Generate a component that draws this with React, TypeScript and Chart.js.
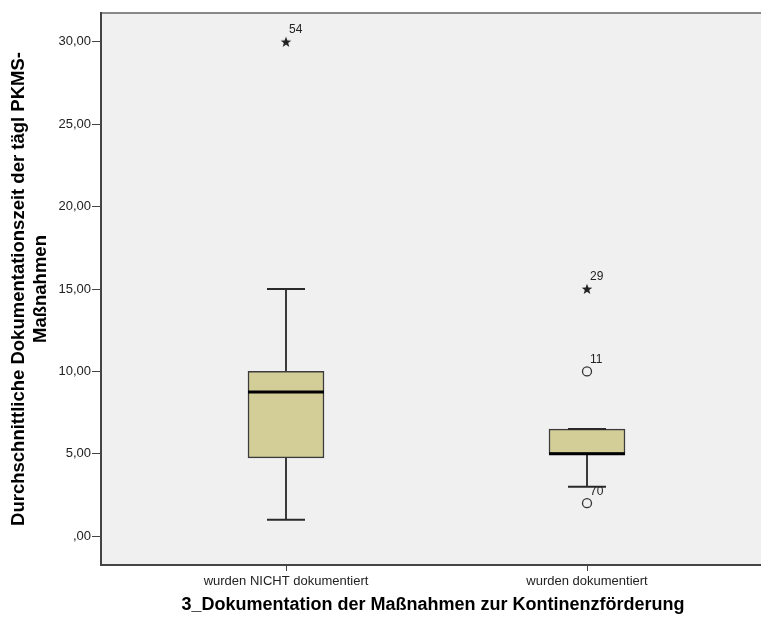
import React, { useEffect, useRef } from "react";
import { Chart, registerables } from "chart.js";

Chart.register(...registerables);

const categories = ["wurden NICHT dokumentiert", "wurden dokumentiert"];
const whiskerLow = [1, 3];
const q1 = [4.75, 5];
const median = [8.75, 5];
const q3 = [10, 6.5];
const whiskerHigh = [15, 6.5];

const outlierCategory = [0, 1, 1, 1];
const outlierValues = [30, 15, 10, 2];
const outlierIds = ["54", "29", "11", "70"];
const outlierExtreme = [true, true, false, false];

const yTickValues = [0, 5, 10, 15, 20, 25, 30];

const yTitleLines = ["Durchschnittliche Dokumentationszeit der tägl PKMS-", "Maßnahmen"];
const xTitle = "3_Dokumentation der Maßnahmen zur Kontinenzförderung";

const FONT = "'Liberation Sans', Arial, sans-serif";

function makeStar(): HTMLCanvasElement {
  const c = document.createElement("canvas");
  c.width = 12;
  c.height = 12;
  const ctx = c.getContext("2d")!;
  ctx.fillStyle = "#222";
  ctx.beginPath();
  const cx = 6, cy = 6.4, R = 5.6, r = 2.3;
  for (let i = 0; i < 10; i++) {
    const rad = i % 2 === 0 ? R : r;
    const a = -Math.PI / 2 + (i * Math.PI) / 5;
    const x = cx + rad * Math.cos(a);
    const y = cy + rad * Math.sin(a);
    if (i === 0) ctx.moveTo(x, y);
    else ctx.lineTo(x, y);
  }
  ctx.closePath();
  ctx.fill();
  return c;
}

const boxPlugin = {
  id: "boxExtras",
  beforeDraw(chart: any) {
    const { ctx, chartArea } = chart;
    ctx.save();
    ctx.fillStyle = "#F0F0F0";
    ctx.fillRect(chartArea.left, chartArea.top, chartArea.right - chartArea.left, chartArea.bottom - chartArea.top);
    ctx.restore();
  },
  beforeDatasetsDraw(chart: any) {
    const { ctx } = chart;
    const xs = chart.scales.x;
    const ys = chart.scales.y;
    ctx.save();
    ctx.strokeStyle = "#3a3a3a";
    ctx.lineWidth = 2;
    for (let i = 0; i < categories.length; i++) {
      const x = Math.round(xs.getPixelForValue(i));
      const yl = ys.getPixelForValue(whiskerLow[i]);
      const yq1 = ys.getPixelForValue(q1[i]);
      const yq3 = ys.getPixelForValue(q3[i]);
      const yh = ys.getPixelForValue(whiskerHigh[i]);
      ctx.beginPath();
      ctx.moveTo(x, yl);
      ctx.lineTo(x, yq1);
      ctx.moveTo(x, yq3);
      ctx.lineTo(x, yh);
      ctx.stroke();
    }
    ctx.restore();
  },
  afterDatasetsDraw(chart: any) {
    const { ctx } = chart;
    const xs = chart.scales.x;
    const ys = chart.scales.y;
    ctx.save();
    for (let i = 0; i < categories.length; i++) {
      const x = Math.round(xs.getPixelForValue(i));
      ctx.strokeStyle = "#2a2a2a";
      ctx.lineWidth = 2;
      ctx.beginPath();
      ctx.moveTo(x - 19, ys.getPixelForValue(whiskerLow[i]));
      ctx.lineTo(x + 19, ys.getPixelForValue(whiskerLow[i]));
      ctx.moveTo(x - 19, ys.getPixelForValue(whiskerHigh[i]));
      ctx.lineTo(x + 19, ys.getPixelForValue(whiskerHigh[i]));
      ctx.stroke();
      ctx.strokeStyle = "#000";
      ctx.lineWidth = 3;
      ctx.beginPath();
      ctx.moveTo(x - 38, ys.getPixelForValue(median[i]));
      ctx.lineTo(x + 38, ys.getPixelForValue(median[i]));
      ctx.stroke();
    }
    ctx.fillStyle = "#222";
    ctx.font = `12px ${FONT}`;
    ctx.textAlign = "left";
    ctx.textBaseline = "middle";
    for (let k = 0; k < outlierValues.length; k++) {
      const x = xs.getPixelForValue(outlierCategory[k]);
      const y = ys.getPixelForValue(outlierValues[k]);
      ctx.fillText(outlierIds[k], x + 3, y - 12);
    }
    ctx.restore();
  },
  afterDraw(chart: any) {
    const { ctx, chartArea } = chart;
    ctx.save();
    ctx.lineWidth = 2;
    ctx.strokeStyle = "#888";
    ctx.beginPath();
    ctx.moveTo(chartArea.left, chartArea.top);
    ctx.lineTo(chartArea.right, chartArea.top);
    ctx.stroke();
    ctx.strokeStyle = "#444";
    ctx.beginPath();
    ctx.moveTo(chartArea.left, chartArea.top - 1);
    ctx.lineTo(chartArea.left, chartArea.bottom);
    ctx.lineTo(chartArea.right, chartArea.bottom);
    ctx.stroke();
    ctx.fillStyle = "#000";
    ctx.font = `bold 18px ${FONT}`;
    ctx.textAlign = "center";
    ctx.textBaseline = "middle";
    ctx.fillText(xTitle, 433, 605);
    const cy = (chartArea.top + chartArea.bottom) / 2;
    ctx.font = `bold 18.5px ${FONT}`;
    ctx.translate(19, cy);
    ctx.rotate(-Math.PI / 2);
    ctx.fillText(yTitleLines[0], 0, 0);
    ctx.fillText(yTitleLines[1], 0, 22);
    ctx.restore();
  },
};

export default function App() {
  const ref = useRef<HTMLCanvasElement | null>(null);
  useEffect(() => {
    if (!ref.current) return;
    const star = makeStar();
    const boxData = categories.map((_, i) => ({ x: i, y: [q1[i], q3[i]] }));
    const extremePts = outlierValues
      .map((v, k) => ({ x: outlierCategory[k], y: v, e: outlierExtreme[k] }))
      .filter((p) => p.e)
      .map((p) => ({ x: p.x, y: p.y }));
    const milderPts = outlierValues
      .map((v, k) => ({ x: outlierCategory[k], y: v, e: outlierExtreme[k] }))
      .filter((p) => !p.e)
      .map((p) => ({ x: p.x, y: p.y }));

    const x0 = 286, step = 301, left = 101, right = 780;
    const chart = new Chart(ref.current, {
      type: "bar",
      data: {
        datasets: [
          {
            type: "bar",
            data: boxData as any,
            backgroundColor: "#D3CE97",
            borderColor: "#3c3c3c",
            borderWidth: 1.5,
            borderSkipped: false,
            barThickness: 76,
          } as any,
          {
            type: "scatter",
            data: extremePts,
            pointStyle: star,
            pointRadius: 6,
          } as any,
          {
            type: "scatter",
            data: milderPts,
            pointStyle: "circle",
            pointRadius: 4.5,
            borderWidth: 1.3,
            borderColor: "#333",
            backgroundColor: "rgba(0,0,0,0)",
          } as any,
        ],
      },
      options: {
        responsive: false,
        animation: false,
        layout: { padding: { top: 13, right: 10, left: 0, bottom: 0 } },
        plugins: { legend: { display: false }, tooltip: { enabled: false } },
        scales: {
          x: {
            type: "linear",
            offset: false,
            min: (left - x0) / step,
            max: (right - x0) / step,
            afterBuildTicks: (s: any) => {
              s.ticks = categories.map((_, i) => ({ value: i }));
            },
            afterFit: (s: any) => {
              s.height = 56;
            },
            grid: { offset: false, drawOnChartArea: false, drawTicks: true, tickLength: 6, color: "#444", lineWidth: 1 },
            border: { display: false },
            ticks: {
              autoSkip: false,
              maxRotation: 0,
              padding: 3,
              color: "#222",
              font: { family: FONT, size: 13 },
              callback: (v: any) => categories[v as number] ?? "",
            },
          },
          y: {
            type: "linear",
            min: -1.75,
            max: 31.75,
            afterBuildTicks: (s: any) => {
              s.ticks = yTickValues.map((v) => ({ value: v }));
            },
            afterFit: (s: any) => {
              s.width = 101;
            },
            grid: { drawOnChartArea: false, drawTicks: true, tickLength: 9, color: "#444", lineWidth: 1 },
            border: { display: false },
            ticks: {
              padding: 1,
              color: "#222",
              font: { family: FONT, size: 13 },
              callback: (v: any) => (v === 0 ? ",00" : Number(v).toFixed(2).replace(".", ",")),
            },
          },
        },
      },
      plugins: [boxPlugin],
    } as any);
    return () => chart.destroy();
  }, []);

  return (
    <div style={{ position: "fixed", left: 0, top: 0, width: 761, height: 621, overflow: "hidden", background: "#fff" }}>
      <canvas ref={ref} width={790} height={621} style={{ display: "block", width: 790, height: 621 }} />
    </div>
  );
}
